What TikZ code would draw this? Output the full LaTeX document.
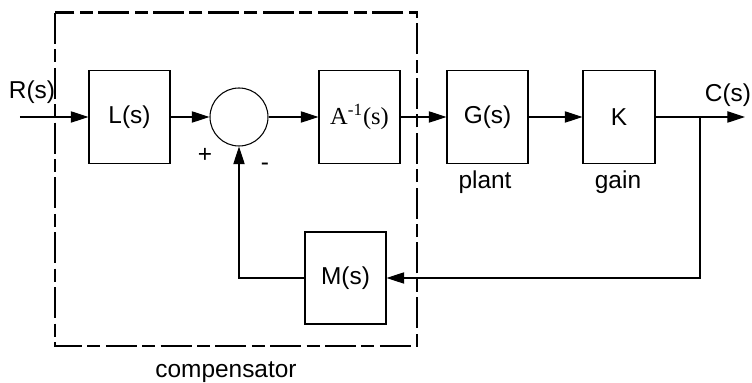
\documentclass[tikz,border=0pt]{standalone}
\usepackage{fontspec}
\setmainfont{Liberation Sans}
\newfontfamily\tmsfont{Liberation Serif}
\usetikzlibrary{arrows.meta}

\begin{document}
\begin{tikzpicture}[
      blk/.style={draw, line width=0.6pt, minimum width=1.62cm, minimum height=1.86cm, inner sep=0pt, font=\fontsize{13.9}{16}\selectfont},
      sm/.style={draw, circle, line width=0.6pt, minimum size=1.16cm, inner sep=0pt},
      lbl/.style={font=\fontsize{13.9}{16}\selectfont, inner sep=0pt},
      arr/.style={-{Triangle[length=10pt, width=6.4pt]}, line width=0.6pt}]
      \useasboundingbox (0,0) rectangle (15.04,-7.66);
      \draw[line width=1.7pt, dash pattern=on 17.6pt off 3.1pt on 7.4pt off 3.1pt] (1.1,-0.26) rectangle (8.34,-6.92);
      \coordinate (in) at (0.4,-2.34); \coordinate (br) at (14.0,-2.34); \coordinate (out) at (14.9,-2.34);
      \node[blk] (L) at (2.59,-2.34) {L(s)};
      \node[sm] (sum) at (4.78,-2.34) {};
      \node[blk] (A) at (7.19,-2.34) {\tmsfont A\textsuperscript{-1}(s)};
      \node[blk] (G) at (9.75,-2.34) {G(s)};
      \node[blk, minimum width=1.44cm] (K) at (12.38,-2.34) {K};
      \node[blk, minimum height=1.84cm] (M) at (6.91,-5.56) {M(s)};
      \draw[arr](in)--(L);\draw[arr](L)--(sum);\draw[arr](sum)--(A);
      \draw[arr](A)--(G);\draw[arr](G)--(K);\draw[arr](K)--(out);
      \draw[arr](br)|-(M);\draw[arr](M)-|(sum);
      \node[lbl] (r) at (0.64,-1.84) {R(s)};
      \node[lbl] (c) at (14.56,-1.9) {C(s)};
      \node[lbl] (plus) at (4.1,-3.1) {+};
      \node[lbl] (minus) at (5.3,-3.34) {-};
      \node[lbl] (plant) at (9.7,-3.64) {plant};
      \node[lbl] (gain) at (12.36,-3.64) {gain};
      \node[lbl] (comp) at (4.52,-7.44) {compensator};
    \end{tikzpicture}
\end{document}
